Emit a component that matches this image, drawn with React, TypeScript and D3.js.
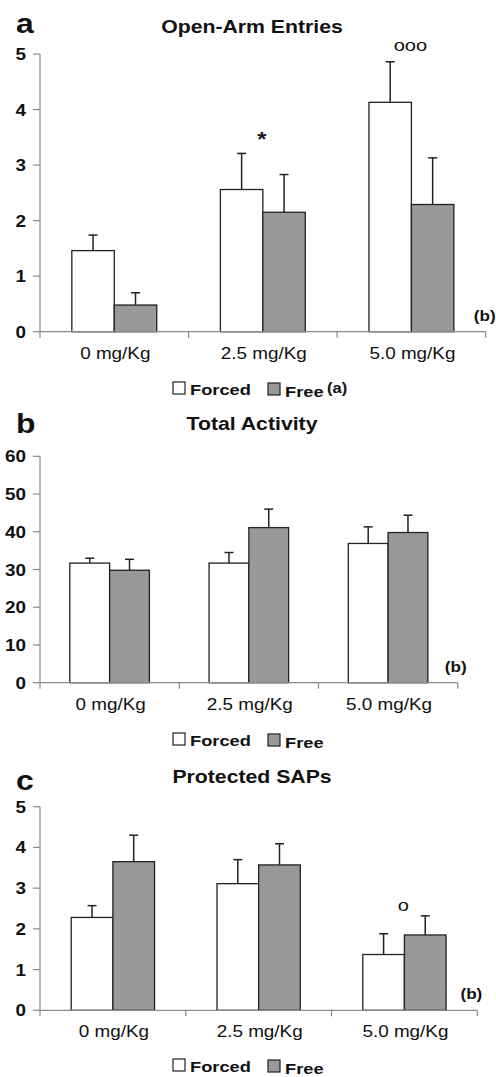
import React from 'react';
import * as d3 from 'd3';

const doses = ['0 mg/Kg', '2.5 mg/Kg', '5.0 mg/Kg'];
const groups = ['Forced', 'Free'];

// Open-Arm Entries
const armForced = [1.46, 2.56, 4.13];
const armForcedErr = [0.28, 0.65, 0.73];
const armFree = [0.48, 2.15, 2.29];
const armFreeErr = [0.22, 0.68, 0.84];
const armTicks = [0, 1, 2, 3, 4, 5];

// Total Activity
const actForced = [31.7, 31.7, 36.9];
const actForcedErr = [1.3, 2.8, 4.4];
const actFree = [29.8, 41.1, 39.8];
const actFreeErr = [2.9, 4.9, 4.6];
const actTicks = [0, 10, 20, 30, 40, 50, 60];

// Protected SAPs
const sapForced = [2.28, 3.11, 1.37];
const sapForcedErr = [0.29, 0.59, 0.51];
const sapFree = [3.65, 3.57, 1.85];
const sapFreeErr = [0.65, 0.52, 0.47];
const sapTicks = [0, 1, 2, 3, 4, 5];

const FONT = 'Liberation Sans, Arial, Helvetica, sans-serif';
const SX = 1.18; // source figure is stretched horizontally

const panels = [
  {
    letter: 'a', title: 'Open-Arm Entries', forced: armForced, forcedErr: armForcedErr,
    free: armFree, freeErr: armFreeErr, ticks: armTicks,
    x0: 40, x1: 485.7, yTop: 54, yBottom: 331.7, letterY: 33, titleY: 33,
    bOffset: 10, legendY: 382, legendSup: true,
    marks: [{ i: 1, v: 3.52, text: '*', bold: true, size: 20, dy: 10 }, { i: 2, v: 5.05, text: 'ooo', bold: false, size: 17, dy: 0 }],
  },
  {
    letter: 'b', title: 'Total Activity', forced: actForced, forcedErr: actForcedErr,
    free: actFree, freeErr: actFreeErr, ticks: actTicks,
    x0: 40, x1: 457.7, yTop: 456.3, yBottom: 682.7, letterY: 433, titleY: 430,
    bOffset: 9, legendY: 733, legendSup: false, marks: [],
  },
  {
    letter: 'c', title: 'Protected SAPs', forced: sapForced, forcedErr: sapForcedErr,
    free: sapFree, freeErr: sapFreeErr, ticks: sapTicks,
    x0: 40, x1: 477.3, yTop: 806.7, yBottom: 1010.3, letterY: 790, titleY: 783,
    bOffset: 5, legendY: 1059, legendSup: false,
    marks: [{ i: 2, v: 2.43, text: 'o', bold: false, size: 17, dy: 0 }],
  },
];

const SText = ({ x, y, anchor = 'start', size, bold = true, children }: any) => (
  <text
    transform={`translate(${x},${y}) scale(${SX},1)`}
    textAnchor={anchor}
    fontSize={size}
    fontWeight={bold ? 'bold' : 'normal'}
    fontFamily={FONT}
    fill="#111"
  >
    {children}
  </text>
);

const Panel = ({ p }: any) => {
  const x = d3.scaleBand().domain(doses).range([p.x0, p.x1]).paddingInner(0).paddingOuter(0);
  const xs = d3.scaleBand().domain(groups).range([0, x.bandwidth()]).paddingInner(0).paddingOuter(0.75);
  const y = d3.scaleLinear().domain([0, d3.max(p.ticks) as number]).range([p.yBottom, p.yTop]);
  const series = [
    { key: 'Forced', vals: p.forced, errs: p.forcedErr, fill: '#ffffff' },
    { key: 'Free', vals: p.free, errs: p.freeErr, fill: '#999999' },
  ];
  const axisColor = '#8a8a8a';
  const boundaries = [...doses.map((d) => x(d) as number), p.x1];

  return (
    <g>
      <SText x={16} y={p.letterY} size={27}>{p.letter}</SText>
      <SText x={252} y={p.titleY} anchor="middle" size={18}>{p.title}</SText>

      {/* y axis */}
      <line x1={p.x0} x2={p.x0} y1={p.yTop} y2={p.yBottom} stroke={axisColor} strokeWidth={1.2} />
      {p.ticks.map((t: number) => (
        <g key={t}>
          <line x1={p.x0 - 7} x2={p.x0} y1={y(t)} y2={y(t)} stroke={axisColor} strokeWidth={1.2} />
          <SText x={26} y={y(t) + 6} anchor="end" size={16}>{t}</SText>
        </g>
      ))}

      {/* bars */}
      {series.map((s) => doses.map((d, i) => {
        const bx = (x(d) as number) + (xs(s.key) as number);
        const bw = xs.bandwidth();
        const cx = bx + bw / 2;
        return (
          <g key={s.key + d}>
            <line x1={cx} x2={cx} y1={y(s.vals[i])} y2={y(s.vals[i] + s.errs[i])} stroke="#222" strokeWidth={1.5} />
            <line x1={cx - 4.5} x2={cx + 4.5} y1={y(s.vals[i] + s.errs[i])} y2={y(s.vals[i] + s.errs[i])} stroke="#222" strokeWidth={1.5} />
            <rect x={bx} y={y(s.vals[i])} width={bw} height={y(0) - y(s.vals[i])} fill={s.fill} stroke="#222" strokeWidth={1.3} />
          </g>
        );
      }))}

      {/* x axis */}
      <line x1={p.x0} x2={p.x1} y1={p.yBottom} y2={p.yBottom} stroke={axisColor} strokeWidth={1.2} />
      {boundaries.map((b, i) => (
        <line key={i} x1={b} x2={b} y1={p.yBottom} y2={p.yBottom + 6} stroke={axisColor} strokeWidth={1.2} />
      ))}
      {doses.map((d) => (
        <SText key={d} x={(x(d) as number) + x.bandwidth() / 2 + 1} y={p.yBottom + 27} anchor="middle" size={16} bold={false}>{d}</SText>
      ))}
      <SText x={p.x1 + p.bOffset} y={p.yBottom - 11} anchor="end" size={14.5}>(b)</SText>

      {/* significance marks */}
      {p.marks.map((m: any, k: number) => {
        const cx = (x(doses[m.i]) as number) + x.bandwidth() / 2;
        return (
          <SText key={k} x={cx - 1} y={y(m.v) + m.dy} anchor="middle" size={m.size} bold={m.bold}>{m.text}</SText>
        );
      })}

      {/* legend */}
      <rect x={173} y={p.legendY} width={12} height={12} fill="#fff" stroke="#222" strokeWidth={1.2} />
      <SText x={190} y={p.legendY + 12.5} size={15.5}>Forced</SText>
      <rect x={268} y={p.legendY + 1} width={12} height={12} fill="#999" stroke="#222" strokeWidth={1.2} />
      <SText x={285} y={p.legendY + 15} size={15.5}>Free</SText>
      {p.legendSup && <SText x={327} y={p.legendY + 11} size={14}>(a)</SText>}
    </g>
  );
};

export default function App() {
  return (
    <svg width={496} height={1077} style={{ position: 'absolute', left: 0, top: 0, background: '#fff' }}>
      <rect width={496} height={1077} fill="#fff" />
      {panels.map((p) => <Panel key={p.letter} p={p} />)}
    </svg>
  );
}
